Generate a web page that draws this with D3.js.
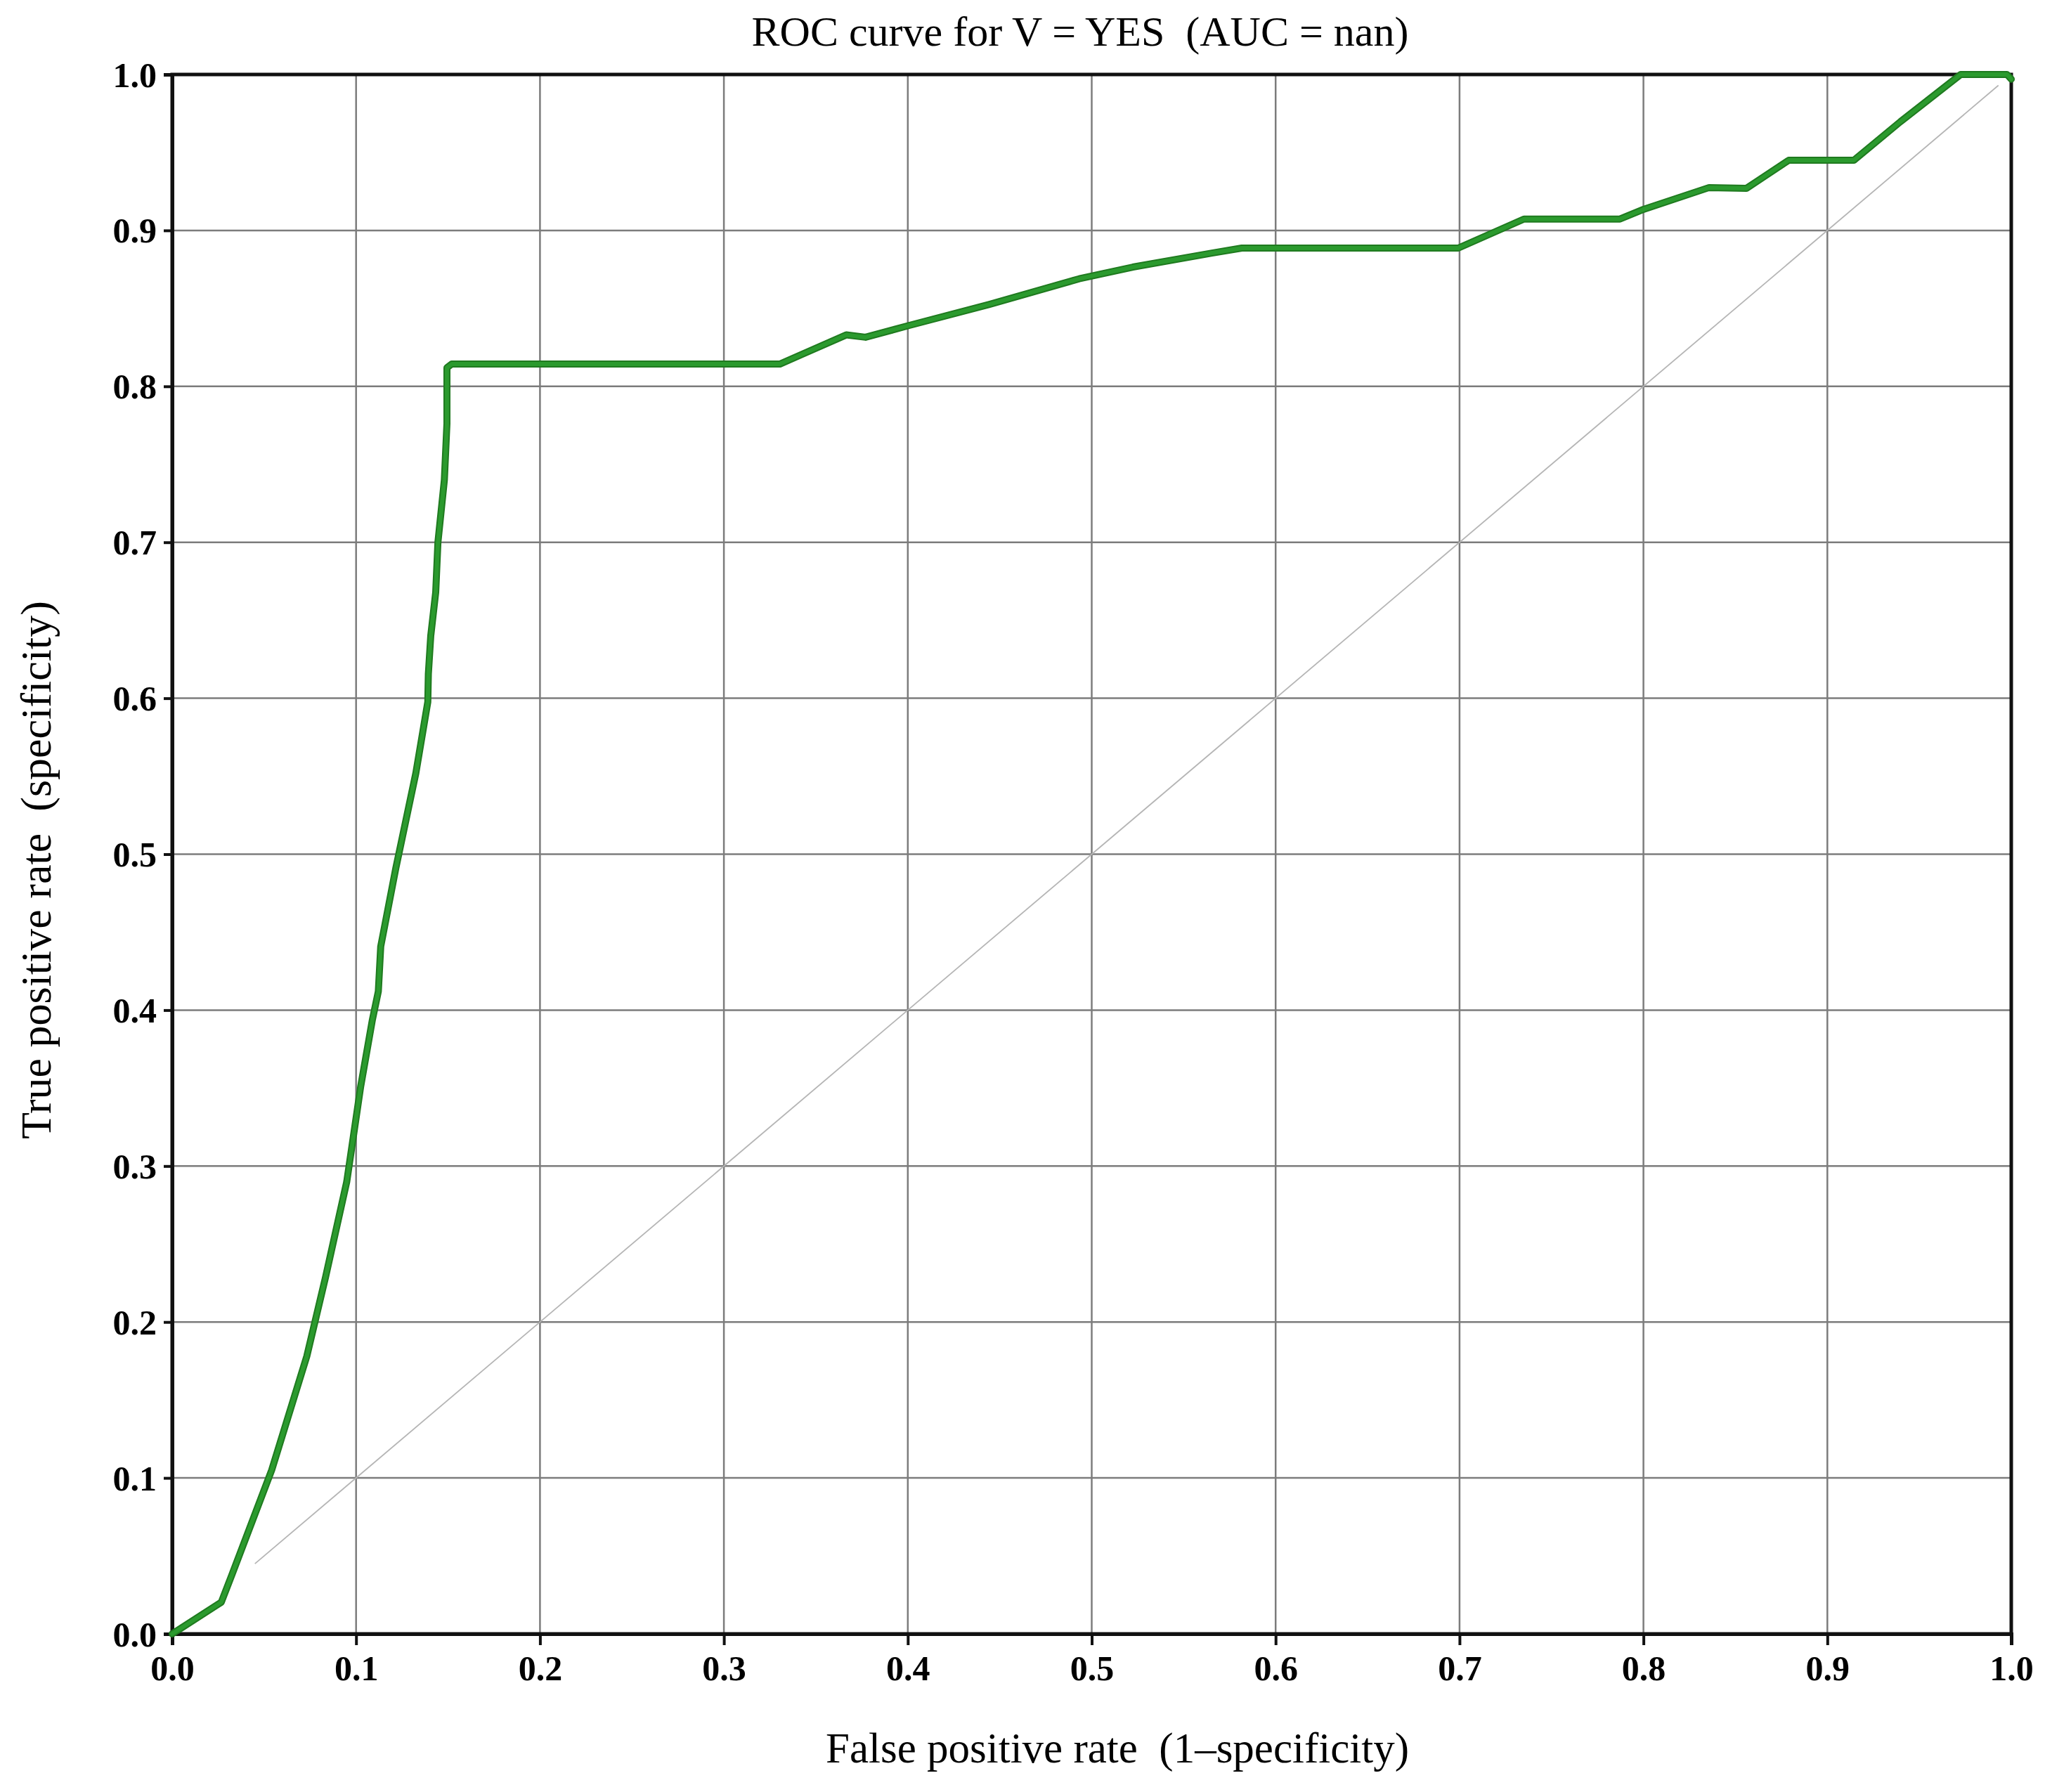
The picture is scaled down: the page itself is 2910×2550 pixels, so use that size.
<!DOCTYPE html>
<html>
<head>
<meta charset="utf-8">
<script src="https://cdn.jsdelivr.net/npm/d3@7"></script>
<style>
  html, body { margin: 0; padding: 0; background: #fff; }
  svg { display: block; }
  text { font-family: "Liberation Serif", "Times New Roman", serif; white-space: pre; }
</style>
</head>
<body>
<script>
// ---- data ----
const fpr = [0, 0.0267, 0.0325, 0.0541, 0.0732, 0.0834, 0.0949, 0.1025, 0.1089, 0.1121, 0.1134, 0.1216, 0.1325,
             0.139, 0.1393, 0.1406, 0.1433, 0.1445, 0.148, 0.1494, 0.1494, 0.152,
             0.3304, 0.3665, 0.377, 0.4005, 0.4444, 0.4932, 0.5224, 0.5654, 0.5816, 0.6993, 0.735, 0.7872,
             0.800, 0.8357, 0.856, 0.879, 0.9144, 0.9398, 0.9725, 0.9977, 1.0];
const tpr = [0, 0.0203, 0.038, 0.105, 0.178, 0.2288, 0.2898, 0.351, 0.394, 0.412, 0.4408, 0.491, 0.552,
             0.5976, 0.6156, 0.640, 0.668, 0.700, 0.740, 0.776, 0.812, 0.8143,
             0.8143, 0.833, 0.8315, 0.839, 0.8526, 0.869, 0.8765, 0.8855, 0.8887, 0.8887, 0.9073, 0.9073,
             0.9135, 0.9275, 0.927, 0.945, 0.945, 0.9698, 1.0, 1.0, 0.997];
const diagX = [0.045, 0.993];
const diagY = [0.045, 0.993];
const xTicks = [0, 0.1, 0.2, 0.3, 0.4, 0.5, 0.6, 0.7, 0.8, 0.9, 1.0];
const yTicks = [0, 0.1, 0.2, 0.3, 0.4, 0.5, 0.6, 0.7, 0.8, 0.9, 1.0];
const titleText = "ROC curve for V = YES  (AUC = nan)";
const xLabel = "False positive rate  (1\u2013specificity)";
const yLabel = "True positive rate  (specificity)";

// ---- layout ----
const W = 2910, H = 2550;
const m = { left: 245, right: 48, top: 106, bottom: 225 };
const iw = W - m.left - m.right, ih = H - m.top - m.bottom;

const svg = d3.select("body").append("svg").attr("width", W).attr("height", H);
const g = svg.append("g").attr("transform", `translate(${m.left},${m.top})`);

const x = d3.scaleLinear().domain([0, 1]).range([0, iw]);
const y = d3.scaleLinear().domain([0, 1]).range([ih, 0]);

// grid
g.append("g").selectAll("line").data(xTicks).join("line")
  .attr("x1", d => x(d)).attr("x2", d => x(d)).attr("y1", 0).attr("y2", ih)
  .attr("stroke", "#7c7c7c").attr("stroke-width", 2.5);
g.append("g").selectAll("line").data(yTicks).join("line")
  .attr("y1", d => y(d)).attr("y2", d => y(d)).attr("x1", 0).attr("x2", iw)
  .attr("stroke", "#7c7c7c").attr("stroke-width", 2.5);

// diagonal
g.append("line")
  .attr("x1", x(diagX[0])).attr("y1", y(diagY[0]))
  .attr("x2", x(diagX[1])).attr("y2", y(diagY[1]))
  .attr("stroke", "#b5b5b5").attr("stroke-width", 1.8);

// frame (top/right)
g.append("rect").attr("x", 0).attr("y", 0).attr("width", iw).attr("height", ih)
  .attr("fill", "none").attr("stroke", "#111").attr("stroke-width", 5);

// axes
const xAxis = d3.axisBottom(x).tickValues(xTicks).tickFormat(d3.format(".1f")).tickSize(16).tickPadding(14);
const yAxis = d3.axisLeft(y).tickValues(yTicks).tickFormat(d3.format(".1f")).tickSize(12).tickPadding(10);

const gx = g.append("g").attr("transform", `translate(0,${ih})`).call(xAxis);
const gy = g.append("g").call(yAxis);
[gx, gy].forEach(a => {
  a.select(".domain").attr("stroke", "#111").attr("stroke-width", 5);
  a.selectAll(".tick line").attr("stroke", "#111").attr("stroke-width", 4);
  a.selectAll(".tick text")
    .attr("font-family", "Liberation Serif, serif")
    .attr("font-weight", "bold").attr("font-size", 50).attr("fill", "#000");
});
gy.selectAll(".tick text").attr("dy", "0.34em");

// ROC curve
const pts = fpr.map((v, i) => [v, tpr[i]]);
const line = d3.line().x(d => x(d[0])).y(d => y(d[1]));
g.append("path").datum(pts).attr("d", line)
  .attr("fill", "none").attr("stroke", "#1f7a1f").attr("stroke-width", 10)
  .attr("stroke-linejoin", "round").attr("stroke-linecap", "round");
g.append("path").datum(pts).attr("d", line)
  .attr("fill", "none").attr("stroke", "#2b9a2e").attr("stroke-width", 6)
  .attr("stroke-linejoin", "round").attr("stroke-linecap", "round");

// title & labels
svg.append("text").attr("x", 1537).attr("y", 65).attr("text-anchor", "middle")
  .attr("font-size", 60).attr("fill", "#000").text(titleText);
svg.append("text").attr("x", 1590).attr("y", 2508).attr("text-anchor", "middle")
  .attr("font-size", 61).attr("fill", "#000").text(xLabel);
svg.append("text").attr("transform", "translate(72,1238) rotate(-90)").attr("text-anchor", "middle")
  .attr("font-size", 62).attr("fill", "#000").text(yLabel);
</script>
</body>
</html>
